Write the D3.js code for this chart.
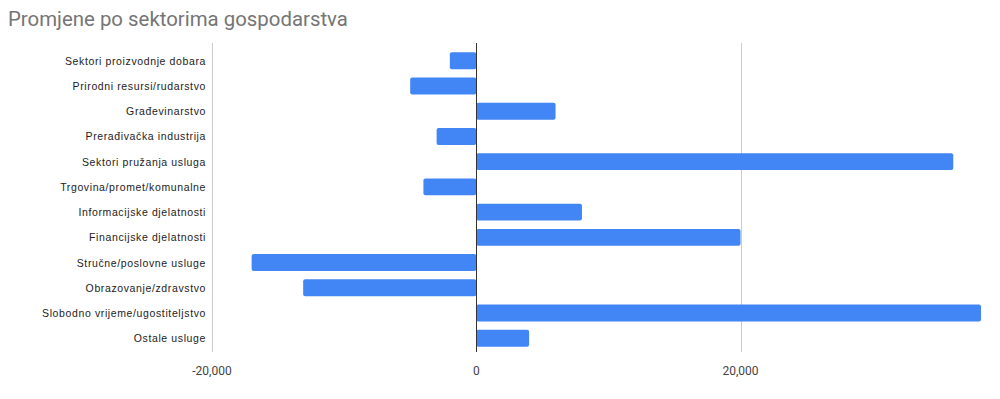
<!DOCTYPE html>
<html>
<head>
<meta charset="utf-8">
<script src="https://cdn.jsdelivr.net/npm/d3@7"></script>
<style>
  body { margin: 0; background: #fff; }
  svg { display: block; }
</style>
</head>
<body>
<svg id="chart" width="1000" height="399"></svg>
<script>
// podaci o promjenama po sektorima
var sectors = [
    "Sektori proizvodnje dobara",
    "Prirodni resursi/rudarstvo",
    "Građevinarstvo",
    "Prerađivačka industrija",
    "Sektori pružanja usluga",
    "Trgovina/promet/komunalne",
    "Informacijske djelatnosti",
    "Financijske djelatnosti",
    "Stručne/poslovne usluge",
    "Obrazovanje/zdravstvo",
    "Slobodno vrijeme/ugostiteljstvo",
    "Ostale usluge"
];
var changes = [-2000, -5000, 6000, -3000, 36100, -4000, 8000, 20000, -17000, -13100, 38200, 4000];
var tickValues = [-20000, 0, 20000];
var tickLabels = ["-20,000", "0", "20,000"];

var svg = d3.select("#chart");
var plot = { left: 212, right: 981, top: 43, bottom: 352 };

var x = d3.scaleLinear()
        .domain([-20000, d3.max(changes)])
        .range([plot.left, plot.right]);

var y = d3.scaleBand()
        .domain(sectors)
        .range([plot.top + 5, plot.bottom - 1])
        .paddingInner(0.33)
        .paddingOuter(0.17);

svg.append("text")
        .attr("x", 8)
        .attr("y", 26)
        .style("font-family", "Roboto, Arial, sans-serif")
        .style("font-size", "20.4px")
        .style("fill", "#757575")
        .text("Promjene po sektorima gospodarstva");

// mreza
svg.selectAll(".grid")
        .data(tickValues.filter(function (d) { return d !== 0; }))
        .enter().append("line")
        .attr("x1", function (d) { return Math.round(x(d)) + 0.5; })
        .attr("x2", function (d) { return Math.round(x(d)) + 0.5; })
        .attr("y1", plot.top)
        .attr("y2", plot.bottom)
        .style("stroke", "#cccccc")
        .style("stroke-width", 1);

svg.selectAll(".bar")
        .data(changes)
        .enter().append("rect")
        .attr("x", function (d) { return x(Math.min(0, d)); })
        .attr("y", function (d, i) { return y(sectors[i]); })
        .attr("width", function (d) { return Math.abs(x(d) - x(0)); })
        .attr("height", y.bandwidth())
        .attr("rx", 2)
        .style("fill", "#4285f4");

// nulta os
svg.append("line")
        .attr("x1", Math.round(x(0)) + 0.5)
        .attr("x2", Math.round(x(0)) + 0.5)
        .attr("y1", plot.top)
        .attr("y2", plot.bottom)
        .style("stroke", "#333333")
        .style("stroke-width", 1);

svg.selectAll(".cat")
        .data(sectors)
        .enter().append("text")
        .attr("x", 206)
        .attr("y", function (d) { return y(d) + y.bandwidth() / 2 + 4; })
        .attr("text-anchor", "end")
        .style("font-family", "Arial, 'Liberation Sans', sans-serif")
        .style("font-size", "10.5px")
        .style("letter-spacing", "0.62px")
        .style("fill", "#222222")
        .text(function (d) { return d; });

svg.selectAll(".tick")
        .data(tickValues)
        .enter().append("text")
        .attr("x", function (d) { return x(d); })
        .attr("y", 375)
        .attr("text-anchor", "middle")
        .style("font-family", "Roboto, Arial, sans-serif")
        .style("font-size", "12px")
        .style("fill", "#444444")
        .text(function (d, i) { return tickLabels[i]; });
</script>
</body>
</html>
